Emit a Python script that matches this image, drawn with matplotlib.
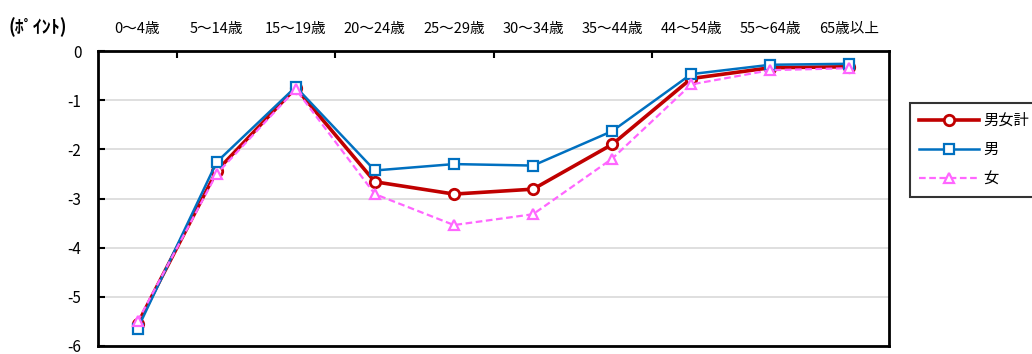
import matplotlib
matplotlib.use("Agg")
import matplotlib.pyplot as plt
import numpy as np

plt.rcParams['font.family'] = ['Noto Sans CJK JP', 'DejaVu Sans']

# Age groups and change in points by sex
age_groups = ["0〜4歳", "5〜14歳", "15〜19歳", "20〜24歳", "25〜29歳",
              "30〜34歳", "35〜44歳", "44〜54歳", "55〜64歳", "65歳以上"]
total = [-5.55, -2.44, -0.75, -2.66, -2.91, -2.81, -1.90, -0.56, -0.34, -0.32]
male = [-5.65, -2.26, -0.73, -2.43, -2.30, -2.33, -1.63, -0.47, -0.28, -0.26]
female = [-5.50, -2.50, -0.78, -2.91, -3.54, -3.32, -2.19, -0.68, -0.39, -0.35]
series_labels = ["男女計", "男", "女"]
y_ticks = [0, -1, -2, -3, -4, -5, -6]

fig = plt.figure(figsize=(10.32, 3.54), dpi=100)
ax = fig.add_axes([98 / 1032, 8 / 354, (889 - 98) / 1032, (346 - 51) / 354])

x = np.arange(len(age_groups))

ax.plot(x, total, color="#C00000", lw=2.6, marker="o", ms=7.5,
        mfc="white", mec="#C00000", mew=2.0, label=series_labels[0], zorder=3)
ax.plot(x, male, color="#0070C0", lw=1.8, marker="s", ms=6.5,
        mfc="white", mec="#0070C0", mew=1.6, label=series_labels[1], zorder=4)
ax.plot(x, female, color="#FF66FF", lw=1.6, ls=(0, (3, 1.6)), marker="^", ms=7,
        mfc="white", mec="#FF66FF", mew=1.6, label=series_labels[2], zorder=5)

ax.set_xlim(-0.5, len(age_groups) - 0.5)
ax.set_ylim(-6, 0)

# Gridlines
ax.set_yticks(y_ticks)
ax.set_yticklabels([str(v) for v in y_ticks], fontsize=11)
ax.yaxis.grid(True, color="#D9D9D9", lw=1.2)
ax.set_axisbelow(True)
ax.tick_params(axis="y", direction="in", length=5, width=1.5, pad=12)

# Category labels above the plot, tick marks every two categories
ax.xaxis.tick_top()
ax.set_xticks([0.5, 2.5, 4.5, 6.5])
ax.set_xticklabels([])
ax.set_xticks(x, minor=True)
ax.set_xticklabels(age_groups, minor=True, fontsize=10.5)
ax.tick_params(axis="x", which="major", direction="in", length=5, width=1.5)
ax.tick_params(axis="x", which="minor", length=0, pad=11)

for sp in ax.spines.values():
    sp.set_linewidth(2)
    sp.set_color("black")

fig.text(8 / 1032, 1 - 27 / 354, "(ﾎﾟｲﾝﾄ)", fontsize=13, fontweight="bold",
         va="center", ha="left")

leg = fig.legend(loc="upper left", bbox_to_anchor=(910 / 1032, 1 - 103 / 354),
                 frameon=True, fancybox=False, edgecolor="black",
                 fontsize=11, handlelength=3.9, labelspacing=0.8,
                 borderpad=0.6, handletextpad=0.3, borderaxespad=0)
leg.get_frame().set_linewidth(1.5)

fig.savefig("out.png", dpi=100)
